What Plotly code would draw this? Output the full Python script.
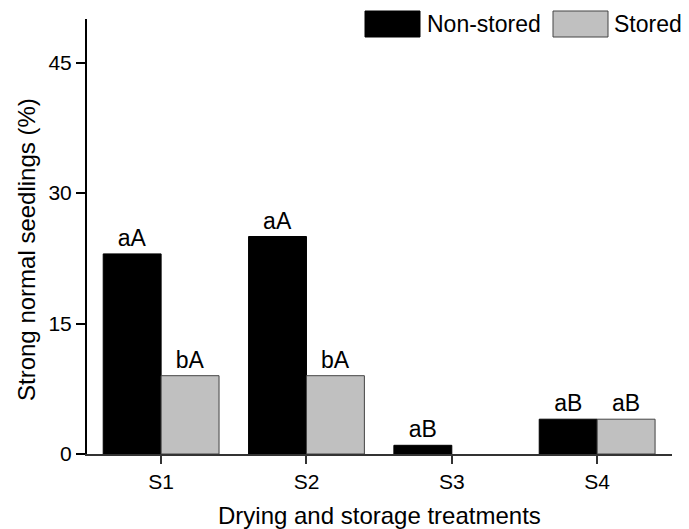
import plotly.graph_objects as go

categories = ["S1", "S2", "S3", "S4"]
non_stored = [23, 25, 1, 4]
stored = [9, 9, 0, 4]
non_stored_labels = ["aA", "aA", "aB", "aB"]
stored_labels = ["bA", "bA", "", "aB"]
y_ticks = [0, 15, 30, 45]

OFF = 8  # page body margin
W, H = 689 - OFF, 529 - OFF
L, R, T, B = 87 - OFF, 17, 19 - OFF, 75
PW, PH = W - L - R, H - T - B

def px_x(p):
    return (p - OFF - L) / PW

def px_y(p):
    return (H - B - (p - OFF)) / PH

FONT = "Arial, Liberation Sans, sans-serif"

fig = go.Figure()
fig.add_trace(go.Bar(
    x=categories, y=non_stored, name="Non-stored",
    marker=dict(color="#000000", line=dict(color="#000000", width=1)),
    text=non_stored_labels, textposition="outside",
    textfont=dict(family=FONT, size=23, color="#000000"),
    cliponaxis=False, showlegend=False,
))
fig.add_trace(go.Bar(
    x=categories, y=stored, name="Stored",
    marker=dict(color="#c0c0c0",
                line=dict(color="#444444", width=[1 if v > 0 else 0 for v in stored])),
    text=stored_labels, textposition="outside",
    textfont=dict(family=FONT, size=23, color="#000000"),
    cliponaxis=False, showlegend=False,
))

fig.update_layout(
    width=W, height=H,
    margin=dict(l=L, r=R, t=T, b=B),
    paper_bgcolor="white", plot_bgcolor="white",
    barmode="group", bargap=0.203, bargroupgap=0,
    font=dict(family=FONT, color="#000000"),
)
fig.update_traces(constraintext="none")

fig.update_xaxes(
    type="category", range=[-0.51, 3.515],
    showline=True, linecolor="#333333", linewidth=1.5,
    ticks="outside", ticklen=8, tickwidth=1.5, tickcolor="#333333",
    tickfont=dict(family=FONT, size=21, color="#000000"),
    showgrid=False, zeroline=False,
)
fig.update_yaxes(
    range=[0, 50], tickvals=y_ticks,
    showline=True, linecolor="#000000", linewidth=2,
    ticks="outside", ticklen=9, tickwidth=1.5, tickcolor="#000000",
    tickfont=dict(family=FONT, size=21, color="#000000"),
    showgrid=False, zeroline=False,
)

fig.add_annotation(
    text="Drying and storage treatments",
    xref="paper", yref="paper", x=px_x(379), y=px_y(515),
    xanchor="center", yanchor="middle", showarrow=False,
    font=dict(family=FONT, size=24, color="#000000"),
)
fig.add_annotation(
    text="Strong normal seedlings (%)", textangle=-90,
    xref="paper", yref="paper", x=px_x(27), y=px_y(250),
    xanchor="center", yanchor="middle", showarrow=False,
    font=dict(family=FONT, size=24, color="#000000"),
)

# legend drawn as boxes + text
fig.add_shape(type="rect", xref="paper", yref="paper",
              x0=px_x(365), x1=px_x(420), y0=px_y(37), y1=px_y(11),
              fillcolor="#000000", line=dict(color="#000000", width=1))
fig.add_shape(type="rect", xref="paper", yref="paper",
              x0=px_x(553), x1=px_x(608), y0=px_y(37), y1=px_y(11),
              fillcolor="#c0c0c0", line=dict(color="#444444", width=1))
fig.add_annotation(text="Non-stored", xref="paper", yref="paper",
                   x=px_x(425), y=px_y(24), xanchor="left", yanchor="middle",
                   showarrow=False, font=dict(family=FONT, size=23, color="#000000"))
fig.add_annotation(text="Stored", xref="paper", yref="paper",
                   x=px_x(612), y=px_y(24), xanchor="left", yanchor="middle",
                   showarrow=False, font=dict(family=FONT, size=23, color="#000000"))

fig.write_html("out.html")
